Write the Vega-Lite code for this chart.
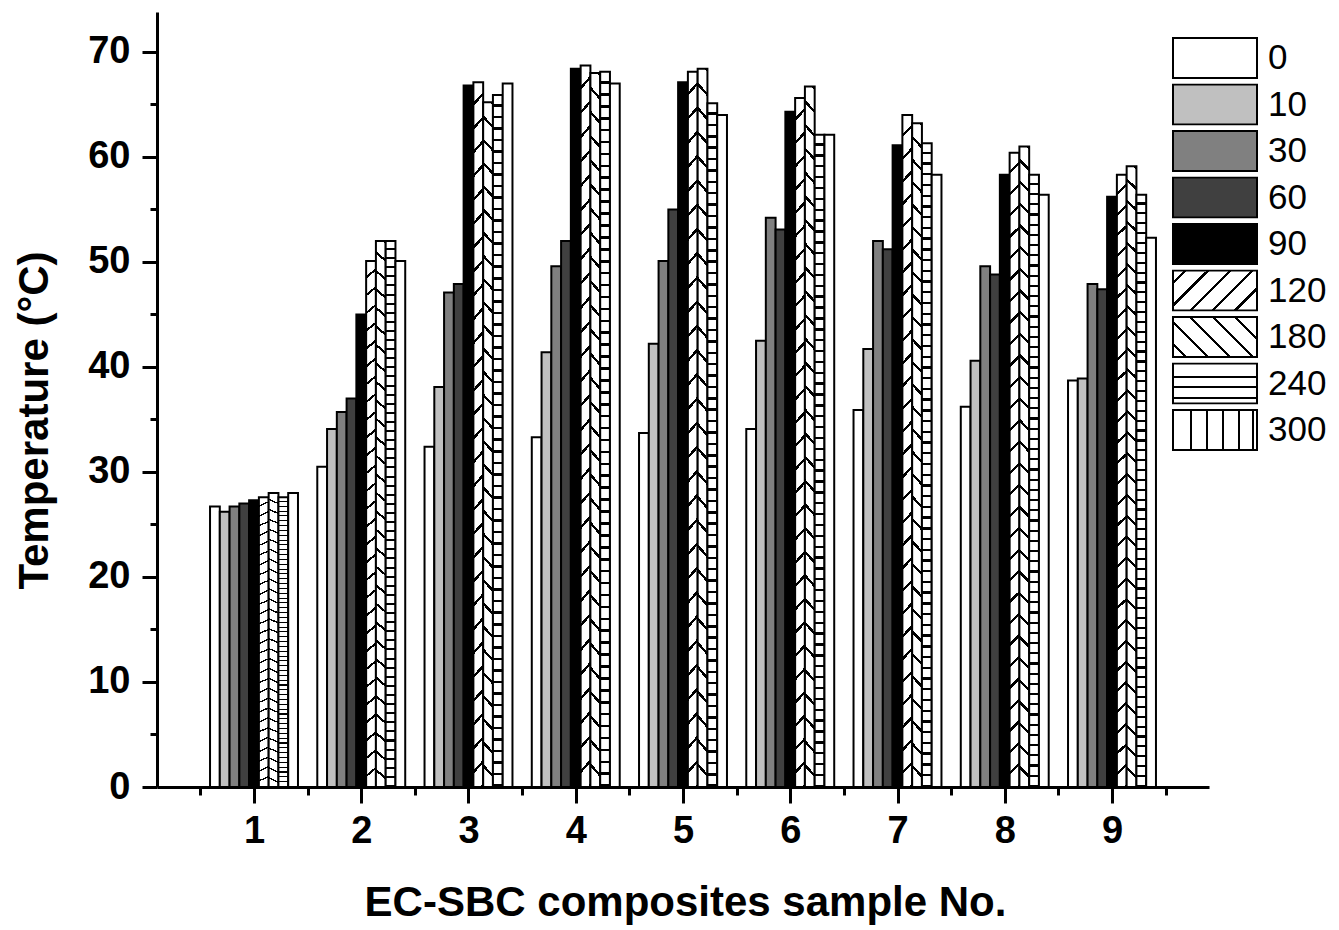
{
  "$schema": "https://vega.github.io/schema/vega-lite/v6.json",
  "width": 1052,
  "height": 775,
  "autosize": "none",
  "padding": {"left": 157, "top": 12, "right": 130, "bottom": 143},
  "background": "white",
  "data": {
    "values": [
      {"sample": 1, "time": 0, "temp": 26.7}, {"sample": 1, "time": 10, "temp": 26.2}, {"sample": 1, "time": 30, "temp": 26.7},
      {"sample": 1, "time": 60, "temp": 27.0}, {"sample": 1, "time": 90, "temp": 27.3}, {"sample": 1, "time": 120, "temp": 27.6},
      {"sample": 1, "time": 180, "temp": 28.0}, {"sample": 1, "time": 240, "temp": 27.6}, {"sample": 1, "time": 300, "temp": 28.0},
      {"sample": 2, "time": 0, "temp": 30.5}, {"sample": 2, "time": 10, "temp": 34.1}, {"sample": 2, "time": 30, "temp": 35.7},
      {"sample": 2, "time": 60, "temp": 37.0}, {"sample": 2, "time": 90, "temp": 45.0}, {"sample": 2, "time": 120, "temp": 50.1},
      {"sample": 2, "time": 180, "temp": 52.0}, {"sample": 2, "time": 240, "temp": 52.0}, {"sample": 2, "time": 300, "temp": 50.1},
      {"sample": 3, "time": 0, "temp": 32.4}, {"sample": 3, "time": 10, "temp": 38.1}, {"sample": 3, "time": 30, "temp": 47.1},
      {"sample": 3, "time": 60, "temp": 47.9}, {"sample": 3, "time": 90, "temp": 66.8}, {"sample": 3, "time": 120, "temp": 67.1},
      {"sample": 3, "time": 180, "temp": 65.2}, {"sample": 3, "time": 240, "temp": 65.9}, {"sample": 3, "time": 300, "temp": 67.0},
      {"sample": 4, "time": 0, "temp": 33.3}, {"sample": 4, "time": 10, "temp": 41.4}, {"sample": 4, "time": 30, "temp": 49.6},
      {"sample": 4, "time": 60, "temp": 52.0}, {"sample": 4, "time": 90, "temp": 68.4}, {"sample": 4, "time": 120, "temp": 68.7},
      {"sample": 4, "time": 180, "temp": 68.0}, {"sample": 4, "time": 240, "temp": 68.1}, {"sample": 4, "time": 300, "temp": 67.0},
      {"sample": 5, "time": 0, "temp": 33.7}, {"sample": 5, "time": 10, "temp": 42.2}, {"sample": 5, "time": 30, "temp": 50.1},
      {"sample": 5, "time": 60, "temp": 55.0}, {"sample": 5, "time": 90, "temp": 67.1}, {"sample": 5, "time": 120, "temp": 68.1},
      {"sample": 5, "time": 180, "temp": 68.4}, {"sample": 5, "time": 240, "temp": 65.1}, {"sample": 5, "time": 300, "temp": 64.0},
      {"sample": 6, "time": 0, "temp": 34.1}, {"sample": 6, "time": 10, "temp": 42.5}, {"sample": 6, "time": 30, "temp": 54.2},
      {"sample": 6, "time": 60, "temp": 53.1}, {"sample": 6, "time": 90, "temp": 64.3}, {"sample": 6, "time": 120, "temp": 65.6},
      {"sample": 6, "time": 180, "temp": 66.7}, {"sample": 6, "time": 240, "temp": 62.1}, {"sample": 6, "time": 300, "temp": 62.1},
      {"sample": 7, "time": 0, "temp": 35.9}, {"sample": 7, "time": 10, "temp": 41.7}, {"sample": 7, "time": 30, "temp": 52.0},
      {"sample": 7, "time": 60, "temp": 51.2}, {"sample": 7, "time": 90, "temp": 61.1}, {"sample": 7, "time": 120, "temp": 64.0},
      {"sample": 7, "time": 180, "temp": 63.2}, {"sample": 7, "time": 240, "temp": 61.3}, {"sample": 7, "time": 300, "temp": 58.3},
      {"sample": 8, "time": 0, "temp": 36.2}, {"sample": 8, "time": 10, "temp": 40.6}, {"sample": 8, "time": 30, "temp": 49.6},
      {"sample": 8, "time": 60, "temp": 48.8}, {"sample": 8, "time": 90, "temp": 58.3}, {"sample": 8, "time": 120, "temp": 60.4},
      {"sample": 8, "time": 180, "temp": 61.0}, {"sample": 8, "time": 240, "temp": 58.3}, {"sample": 8, "time": 300, "temp": 56.4},
      {"sample": 9, "time": 0, "temp": 38.7}, {"sample": 9, "time": 10, "temp": 38.9}, {"sample": 9, "time": 30, "temp": 47.9},
      {"sample": 9, "time": 60, "temp": 47.4}, {"sample": 9, "time": 90, "temp": 56.2}, {"sample": 9, "time": 120, "temp": 58.3},
      {"sample": 9, "time": 180, "temp": 59.1}, {"sample": 9, "time": 240, "temp": 56.4}, {"sample": 9, "time": 300, "temp": 52.3}
    ]
  },
  "layer": [
    {
      "mark": {"type": "bar", "stroke": "black", "strokeWidth": 2, "fillOpacity": 1},
      "encoding": {
        "x": {
          "field": "sample", "type": "ordinal",
          "scale": {"paddingInner": 0.18, "paddingOuter": 0.4945},
          "axis": null
        },
        "xOffset": {
          "field": "time", "type": "ordinal",
          "scale": {"domain": [0, 10, 30, 60, 90, 120, 180, 240, 300], "paddingInner": 0, "paddingOuter": 0}
        },
        "y": {
          "field": "temp", "type": "quantitative",
          "scale": {"domain": [0, 73.8], "nice": false, "zero": true},
          "axis": {
            "values": [0, 5, 10, 15, 20, 25, 30, 35, 40, 45, 50, 55, 60, 65, 70],
            "labelExpr": "datum.value % 10 === 0 ? datum.label : ''",
            "tickSize": {"condition": {"test": "datum.value % 10 === 0", "value": 15}, "value": 7},
            "labelPadding": 12,
            "labelOverlap": false,
            "labelFlush": false,
            "title": "Temperature (°C)",
            "titleX": -110,
            "titleY": 408,
            "titleBaseline": "alphabetic"
          }
        },
        "fill": {
          "field": "time", "type": "ordinal",
          "scale": {
            "domain": [0, 10, 30, 60, 90, 120, 180, 240, 300],
            "range": [
              "#ffffff", "#c0c0c0", "#808080", "#404040", "#000000",
              {"expr": "{gradient: 'linear', x1: 0, y1: 0, x2: 1.203, y2: 0.574, stops: [{offset: 0, color: '#fff'}, {offset: 0.09, color: '#fff'}, {offset: 0.09, color: '#000'}, {offset: 0.115, color: '#000'}, {offset: 0.115, color: '#fff'}, {offset: 0.27, color: '#fff'}, {offset: 0.27, color: '#000'}, {offset: 0.295, color: '#000'}, {offset: 0.295, color: '#fff'}, {offset: 0.45, color: '#fff'}, {offset: 0.45, color: '#000'}, {offset: 0.475, color: '#000'}, {offset: 0.475, color: '#fff'}, {offset: 0.63, color: '#fff'}, {offset: 0.63, color: '#000'}, {offset: 0.655, color: '#000'}, {offset: 0.655, color: '#fff'}, {offset: 0.81, color: '#fff'}, {offset: 0.81, color: '#000'}, {offset: 0.835, color: '#000'}, {offset: 0.835, color: '#fff'}, {offset: 1, color: '#fff'}]}"},
              {"expr": "{gradient: 'linear', x1: 0, y1: 1, x2: 1.203, y2: 0.426, stops: [{offset: 0, color: '#fff'}, {offset: 0.09, color: '#fff'}, {offset: 0.09, color: '#000'}, {offset: 0.115, color: '#000'}, {offset: 0.115, color: '#fff'}, {offset: 0.27, color: '#fff'}, {offset: 0.27, color: '#000'}, {offset: 0.295, color: '#000'}, {offset: 0.295, color: '#fff'}, {offset: 0.45, color: '#fff'}, {offset: 0.45, color: '#000'}, {offset: 0.475, color: '#000'}, {offset: 0.475, color: '#fff'}, {offset: 0.63, color: '#fff'}, {offset: 0.63, color: '#000'}, {offset: 0.655, color: '#000'}, {offset: 0.655, color: '#fff'}, {offset: 0.81, color: '#fff'}, {offset: 0.81, color: '#000'}, {offset: 0.835, color: '#000'}, {offset: 0.835, color: '#fff'}, {offset: 1, color: '#fff'}]}"},
              {"expr": "{gradient: 'linear', x1: 0, y1: 0, x2: 0, y2: 1, stops: [{offset: 0, color: '#fff'}, {offset: 0.31, color: '#fff'}, {offset: 0.31, color: '#000'}, {offset: 0.36, color: '#000'}, {offset: 0.36, color: '#fff'}, {offset: 0.57, color: '#fff'}, {offset: 0.57, color: '#000'}, {offset: 0.62, color: '#000'}, {offset: 0.62, color: '#fff'}, {offset: 0.84, color: '#fff'}, {offset: 0.84, color: '#000'}, {offset: 0.89, color: '#000'}, {offset: 0.89, color: '#fff'}, {offset: 1, color: '#fff'}]}"},
              {"expr": "{gradient: 'linear', x1: 0, y1: 0, x2: 1, y2: 0, stops: [{offset: 0, color: '#fff'}, {offset: 0.2, color: '#fff'}, {offset: 0.2, color: '#000'}, {offset: 0.228, color: '#000'}, {offset: 0.228, color: '#fff'}, {offset: 0.39, color: '#fff'}, {offset: 0.39, color: '#000'}, {offset: 0.418, color: '#000'}, {offset: 0.418, color: '#fff'}, {offset: 0.58, color: '#fff'}, {offset: 0.58, color: '#000'}, {offset: 0.608, color: '#000'}, {offset: 0.608, color: '#fff'}, {offset: 0.77, color: '#fff'}, {offset: 0.77, color: '#000'}, {offset: 0.798, color: '#000'}, {offset: 0.798, color: '#fff'}, {offset: 0.94, color: '#fff'}, {offset: 0.94, color: '#000'}, {offset: 0.968, color: '#000'}, {offset: 0.968, color: '#fff'}, {offset: 1, color: '#fff'}]}"}
            ]
          },
          "condition": [
            {"test": "datum.time === 120", "value": {"gradient": "linear", "x1": 0, "y1": 0, "x2": 0.0156, "y2": 1.0152, "stops": [
              {"offset":0,"color":"#fff"},{"offset":0.0283,"color":"#fff"},{"offset":0.0283,"color":"#000"},{"offset":0.0333,"color":"#000"},
              {"offset":0.0333,"color":"#fff"},{"offset":0.0617,"color":"#fff"},{"offset":0.0617,"color":"#000"},{"offset":0.0667,"color":"#000"},
              {"offset":0.0667,"color":"#fff"},{"offset":0.095,"color":"#fff"},{"offset":0.095,"color":"#000"},{"offset":0.1,"color":"#000"},
              {"offset":0.1,"color":"#fff"},{"offset":0.1283,"color":"#fff"},{"offset":0.1283,"color":"#000"},{"offset":0.1333,"color":"#000"},
              {"offset":0.1333,"color":"#fff"},{"offset":0.1617,"color":"#fff"},{"offset":0.1617,"color":"#000"},{"offset":0.1667,"color":"#000"},
              {"offset":0.1667,"color":"#fff"},{"offset":0.195,"color":"#fff"},{"offset":0.195,"color":"#000"},{"offset":0.2,"color":"#000"},
              {"offset":0.2,"color":"#fff"},{"offset":0.2283,"color":"#fff"},{"offset":0.2283,"color":"#000"},{"offset":0.2333,"color":"#000"},
              {"offset":0.2333,"color":"#fff"},{"offset":0.2617,"color":"#fff"},{"offset":0.2617,"color":"#000"},{"offset":0.2667,"color":"#000"},
              {"offset":0.2667,"color":"#fff"},{"offset":0.295,"color":"#fff"},{"offset":0.295,"color":"#000"},{"offset":0.3,"color":"#000"},
              {"offset":0.3,"color":"#fff"},{"offset":0.3283,"color":"#fff"},{"offset":0.3283,"color":"#000"},{"offset":0.3333,"color":"#000"},
              {"offset":0.3333,"color":"#fff"},{"offset":0.3617,"color":"#fff"},{"offset":0.3617,"color":"#000"},{"offset":0.3667,"color":"#000"},
              {"offset":0.3667,"color":"#fff"},{"offset":0.395,"color":"#fff"},{"offset":0.395,"color":"#000"},{"offset":0.4,"color":"#000"},
              {"offset":0.4,"color":"#fff"},{"offset":0.4283,"color":"#fff"},{"offset":0.4283,"color":"#000"},{"offset":0.4333,"color":"#000"},
              {"offset":0.4333,"color":"#fff"},{"offset":0.4617,"color":"#fff"},{"offset":0.4617,"color":"#000"},{"offset":0.4667,"color":"#000"},
              {"offset":0.4667,"color":"#fff"},{"offset":0.495,"color":"#fff"},{"offset":0.495,"color":"#000"},{"offset":0.5,"color":"#000"},
              {"offset":0.5,"color":"#fff"},{"offset":0.5283,"color":"#fff"},{"offset":0.5283,"color":"#000"},{"offset":0.5333,"color":"#000"},
              {"offset":0.5333,"color":"#fff"},{"offset":0.5617,"color":"#fff"},{"offset":0.5617,"color":"#000"},{"offset":0.5667,"color":"#000"},
              {"offset":0.5667,"color":"#fff"},{"offset":0.595,"color":"#fff"},{"offset":0.595,"color":"#000"},{"offset":0.6,"color":"#000"},
              {"offset":0.6,"color":"#fff"},{"offset":0.6283,"color":"#fff"},{"offset":0.6283,"color":"#000"},{"offset":0.6333,"color":"#000"},
              {"offset":0.6333,"color":"#fff"},{"offset":0.6617,"color":"#fff"},{"offset":0.6617,"color":"#000"},{"offset":0.6667,"color":"#000"},
              {"offset":0.6667,"color":"#fff"},{"offset":0.695,"color":"#fff"},{"offset":0.695,"color":"#000"},{"offset":0.7,"color":"#000"},
              {"offset":0.7,"color":"#fff"},{"offset":0.7283,"color":"#fff"},{"offset":0.7283,"color":"#000"},{"offset":0.7333,"color":"#000"},
              {"offset":0.7333,"color":"#fff"},{"offset":0.7617,"color":"#fff"},{"offset":0.7617,"color":"#000"},{"offset":0.7667,"color":"#000"},
              {"offset":0.7667,"color":"#fff"},{"offset":0.795,"color":"#fff"},{"offset":0.795,"color":"#000"},{"offset":0.8,"color":"#000"},
              {"offset":0.8,"color":"#fff"},{"offset":0.8283,"color":"#fff"},{"offset":0.8283,"color":"#000"},{"offset":0.8333,"color":"#000"},
              {"offset":0.8333,"color":"#fff"},{"offset":0.8617,"color":"#fff"},{"offset":0.8617,"color":"#000"},{"offset":0.8667,"color":"#000"},
              {"offset":0.8667,"color":"#fff"},{"offset":0.895,"color":"#fff"},{"offset":0.895,"color":"#000"},{"offset":0.9,"color":"#000"},
              {"offset":0.9,"color":"#fff"},{"offset":0.9283,"color":"#fff"},{"offset":0.9283,"color":"#000"},{"offset":0.9333,"color":"#000"},
              {"offset":0.9333,"color":"#fff"},{"offset":0.9617,"color":"#fff"},{"offset":0.9617,"color":"#000"},{"offset":0.9667,"color":"#000"},
              {"offset":0.9667,"color":"#fff"},{"offset":0.995,"color":"#fff"},{"offset":0.995,"color":"#000"},{"offset":1,"color":"#000"}
            ]}},
            {"test": "datum.time === 180", "value": {"gradient": "linear", "x1": 0, "y1": 1, "x2": 0.0156, "y2": -0.0152, "stops": [
              {"offset":0,"color":"#fff"},{"offset":0.0283,"color":"#fff"},{"offset":0.0283,"color":"#000"},{"offset":0.0333,"color":"#000"},
              {"offset":0.0333,"color":"#fff"},{"offset":0.0617,"color":"#fff"},{"offset":0.0617,"color":"#000"},{"offset":0.0667,"color":"#000"},
              {"offset":0.0667,"color":"#fff"},{"offset":0.095,"color":"#fff"},{"offset":0.095,"color":"#000"},{"offset":0.1,"color":"#000"},
              {"offset":0.1,"color":"#fff"},{"offset":0.1283,"color":"#fff"},{"offset":0.1283,"color":"#000"},{"offset":0.1333,"color":"#000"},
              {"offset":0.1333,"color":"#fff"},{"offset":0.1617,"color":"#fff"},{"offset":0.1617,"color":"#000"},{"offset":0.1667,"color":"#000"},
              {"offset":0.1667,"color":"#fff"},{"offset":0.195,"color":"#fff"},{"offset":0.195,"color":"#000"},{"offset":0.2,"color":"#000"},
              {"offset":0.2,"color":"#fff"},{"offset":0.2283,"color":"#fff"},{"offset":0.2283,"color":"#000"},{"offset":0.2333,"color":"#000"},
              {"offset":0.2333,"color":"#fff"},{"offset":0.2617,"color":"#fff"},{"offset":0.2617,"color":"#000"},{"offset":0.2667,"color":"#000"},
              {"offset":0.2667,"color":"#fff"},{"offset":0.295,"color":"#fff"},{"offset":0.295,"color":"#000"},{"offset":0.3,"color":"#000"},
              {"offset":0.3,"color":"#fff"},{"offset":0.3283,"color":"#fff"},{"offset":0.3283,"color":"#000"},{"offset":0.3333,"color":"#000"},
              {"offset":0.3333,"color":"#fff"},{"offset":0.3617,"color":"#fff"},{"offset":0.3617,"color":"#000"},{"offset":0.3667,"color":"#000"},
              {"offset":0.3667,"color":"#fff"},{"offset":0.395,"color":"#fff"},{"offset":0.395,"color":"#000"},{"offset":0.4,"color":"#000"},
              {"offset":0.4,"color":"#fff"},{"offset":0.4283,"color":"#fff"},{"offset":0.4283,"color":"#000"},{"offset":0.4333,"color":"#000"},
              {"offset":0.4333,"color":"#fff"},{"offset":0.4617,"color":"#fff"},{"offset":0.4617,"color":"#000"},{"offset":0.4667,"color":"#000"},
              {"offset":0.4667,"color":"#fff"},{"offset":0.495,"color":"#fff"},{"offset":0.495,"color":"#000"},{"offset":0.5,"color":"#000"},
              {"offset":0.5,"color":"#fff"},{"offset":0.5283,"color":"#fff"},{"offset":0.5283,"color":"#000"},{"offset":0.5333,"color":"#000"},
              {"offset":0.5333,"color":"#fff"},{"offset":0.5617,"color":"#fff"},{"offset":0.5617,"color":"#000"},{"offset":0.5667,"color":"#000"},
              {"offset":0.5667,"color":"#fff"},{"offset":0.595,"color":"#fff"},{"offset":0.595,"color":"#000"},{"offset":0.6,"color":"#000"},
              {"offset":0.6,"color":"#fff"},{"offset":0.6283,"color":"#fff"},{"offset":0.6283,"color":"#000"},{"offset":0.6333,"color":"#000"},
              {"offset":0.6333,"color":"#fff"},{"offset":0.6617,"color":"#fff"},{"offset":0.6617,"color":"#000"},{"offset":0.6667,"color":"#000"},
              {"offset":0.6667,"color":"#fff"},{"offset":0.695,"color":"#fff"},{"offset":0.695,"color":"#000"},{"offset":0.7,"color":"#000"},
              {"offset":0.7,"color":"#fff"},{"offset":0.7283,"color":"#fff"},{"offset":0.7283,"color":"#000"},{"offset":0.7333,"color":"#000"},
              {"offset":0.7333,"color":"#fff"},{"offset":0.7617,"color":"#fff"},{"offset":0.7617,"color":"#000"},{"offset":0.7667,"color":"#000"},
              {"offset":0.7667,"color":"#fff"},{"offset":0.795,"color":"#fff"},{"offset":0.795,"color":"#000"},{"offset":0.8,"color":"#000"},
              {"offset":0.8,"color":"#fff"},{"offset":0.8283,"color":"#fff"},{"offset":0.8283,"color":"#000"},{"offset":0.8333,"color":"#000"},
              {"offset":0.8333,"color":"#fff"},{"offset":0.8617,"color":"#fff"},{"offset":0.8617,"color":"#000"},{"offset":0.8667,"color":"#000"},
              {"offset":0.8667,"color":"#fff"},{"offset":0.895,"color":"#fff"},{"offset":0.895,"color":"#000"},{"offset":0.9,"color":"#000"},
              {"offset":0.9,"color":"#fff"},{"offset":0.9283,"color":"#fff"},{"offset":0.9283,"color":"#000"},{"offset":0.9333,"color":"#000"},
              {"offset":0.9333,"color":"#fff"},{"offset":0.9617,"color":"#fff"},{"offset":0.9617,"color":"#000"},{"offset":0.9667,"color":"#000"},
              {"offset":0.9667,"color":"#fff"},{"offset":0.995,"color":"#fff"},{"offset":0.995,"color":"#000"},{"offset":1,"color":"#000"}
            ]}},
            {"test": "datum.time === 240", "value": {"gradient": "linear", "x1": 0, "y1": 0, "x2": 0, "y2": 1, "stops": [
              {"offset":0,"color":"#fff"},{"offset":0.013,"color":"#fff"},{"offset":0.013,"color":"#000"},{"offset":0.0167,"color":"#000"},
              {"offset":0.0167,"color":"#fff"},{"offset":0.0297,"color":"#fff"},{"offset":0.0297,"color":"#000"},{"offset":0.0333,"color":"#000"},
              {"offset":0.0333,"color":"#fff"},{"offset":0.0463,"color":"#fff"},{"offset":0.0463,"color":"#000"},{"offset":0.05,"color":"#000"},
              {"offset":0.05,"color":"#fff"},{"offset":0.063,"color":"#fff"},{"offset":0.063,"color":"#000"},{"offset":0.0667,"color":"#000"},
              {"offset":0.0667,"color":"#fff"},{"offset":0.0797,"color":"#fff"},{"offset":0.0797,"color":"#000"},{"offset":0.0833,"color":"#000"},
              {"offset":0.0833,"color":"#fff"},{"offset":0.0963,"color":"#fff"},{"offset":0.0963,"color":"#000"},{"offset":0.1,"color":"#000"},
              {"offset":0.1,"color":"#fff"},{"offset":0.113,"color":"#fff"},{"offset":0.113,"color":"#000"},{"offset":0.1167,"color":"#000"},
              {"offset":0.1167,"color":"#fff"},{"offset":0.1297,"color":"#fff"},{"offset":0.1297,"color":"#000"},{"offset":0.1333,"color":"#000"},
              {"offset":0.1333,"color":"#fff"},{"offset":0.1463,"color":"#fff"},{"offset":0.1463,"color":"#000"},{"offset":0.15,"color":"#000"},
              {"offset":0.15,"color":"#fff"},{"offset":0.163,"color":"#fff"},{"offset":0.163,"color":"#000"},{"offset":0.1667,"color":"#000"},
              {"offset":0.1667,"color":"#fff"},{"offset":0.1797,"color":"#fff"},{"offset":0.1797,"color":"#000"},{"offset":0.1833,"color":"#000"},
              {"offset":0.1833,"color":"#fff"},{"offset":0.1963,"color":"#fff"},{"offset":0.1963,"color":"#000"},{"offset":0.2,"color":"#000"},
              {"offset":0.2,"color":"#fff"},{"offset":0.213,"color":"#fff"},{"offset":0.213,"color":"#000"},{"offset":0.2167,"color":"#000"},
              {"offset":0.2167,"color":"#fff"},{"offset":0.2297,"color":"#fff"},{"offset":0.2297,"color":"#000"},{"offset":0.2333,"color":"#000"},
              {"offset":0.2333,"color":"#fff"},{"offset":0.2463,"color":"#fff"},{"offset":0.2463,"color":"#000"},{"offset":0.25,"color":"#000"},
              {"offset":0.25,"color":"#fff"},{"offset":0.263,"color":"#fff"},{"offset":0.263,"color":"#000"},{"offset":0.2667,"color":"#000"},
              {"offset":0.2667,"color":"#fff"},{"offset":0.2797,"color":"#fff"},{"offset":0.2797,"color":"#000"},{"offset":0.2833,"color":"#000"},
              {"offset":0.2833,"color":"#fff"},{"offset":0.2963,"color":"#fff"},{"offset":0.2963,"color":"#000"},{"offset":0.3,"color":"#000"},
              {"offset":0.3,"color":"#fff"},{"offset":0.313,"color":"#fff"},{"offset":0.313,"color":"#000"},{"offset":0.3167,"color":"#000"},
              {"offset":0.3167,"color":"#fff"},{"offset":0.3297,"color":"#fff"},{"offset":0.3297,"color":"#000"},{"offset":0.3333,"color":"#000"},
              {"offset":0.3333,"color":"#fff"},{"offset":0.3463,"color":"#fff"},{"offset":0.3463,"color":"#000"},{"offset":0.35,"color":"#000"},
              {"offset":0.35,"color":"#fff"},{"offset":0.363,"color":"#fff"},{"offset":0.363,"color":"#000"},{"offset":0.3667,"color":"#000"},
              {"offset":0.3667,"color":"#fff"},{"offset":0.3797,"color":"#fff"},{"offset":0.3797,"color":"#000"},{"offset":0.3833,"color":"#000"},
              {"offset":0.3833,"color":"#fff"},{"offset":0.3963,"color":"#fff"},{"offset":0.3963,"color":"#000"},{"offset":0.4,"color":"#000"},
              {"offset":0.4,"color":"#fff"},{"offset":0.413,"color":"#fff"},{"offset":0.413,"color":"#000"},{"offset":0.4167,"color":"#000"},
              {"offset":0.4167,"color":"#fff"},{"offset":0.4297,"color":"#fff"},{"offset":0.4297,"color":"#000"},{"offset":0.4333,"color":"#000"},
              {"offset":0.4333,"color":"#fff"},{"offset":0.4463,"color":"#fff"},{"offset":0.4463,"color":"#000"},{"offset":0.45,"color":"#000"},
              {"offset":0.45,"color":"#fff"},{"offset":0.463,"color":"#fff"},{"offset":0.463,"color":"#000"},{"offset":0.4667,"color":"#000"},
              {"offset":0.4667,"color":"#fff"},{"offset":0.4797,"color":"#fff"},{"offset":0.4797,"color":"#000"},{"offset":0.4833,"color":"#000"},
              {"offset":0.4833,"color":"#fff"},{"offset":0.4963,"color":"#fff"},{"offset":0.4963,"color":"#000"},{"offset":0.5,"color":"#000"},
              {"offset":0.5,"color":"#fff"},{"offset":0.513,"color":"#fff"},{"offset":0.513,"color":"#000"},{"offset":0.5167,"color":"#000"},
              {"offset":0.5167,"color":"#fff"},{"offset":0.5297,"color":"#fff"},{"offset":0.5297,"color":"#000"},{"offset":0.5333,"color":"#000"},
              {"offset":0.5333,"color":"#fff"},{"offset":0.5463,"color":"#fff"},{"offset":0.5463,"color":"#000"},{"offset":0.55,"color":"#000"},
              {"offset":0.55,"color":"#fff"},{"offset":0.563,"color":"#fff"},{"offset":0.563,"color":"#000"},{"offset":0.5667,"color":"#000"},
              {"offset":0.5667,"color":"#fff"},{"offset":0.5797,"color":"#fff"},{"offset":0.5797,"color":"#000"},{"offset":0.5833,"color":"#000"},
              {"offset":0.5833,"color":"#fff"},{"offset":0.5963,"color":"#fff"},{"offset":0.5963,"color":"#000"},{"offset":0.6,"color":"#000"},
              {"offset":0.6,"color":"#fff"},{"offset":0.613,"color":"#fff"},{"offset":0.613,"color":"#000"},{"offset":0.6167,"color":"#000"},
              {"offset":0.6167,"color":"#fff"},{"offset":0.6297,"color":"#fff"},{"offset":0.6297,"color":"#000"},{"offset":0.6333,"color":"#000"},
              {"offset":0.6333,"color":"#fff"},{"offset":0.6463,"color":"#fff"},{"offset":0.6463,"color":"#000"},{"offset":0.65,"color":"#000"},
              {"offset":0.65,"color":"#fff"},{"offset":0.663,"color":"#fff"},{"offset":0.663,"color":"#000"},{"offset":0.6667,"color":"#000"},
              {"offset":0.6667,"color":"#fff"},{"offset":0.6797,"color":"#fff"},{"offset":0.6797,"color":"#000"},{"offset":0.6833,"color":"#000"},
              {"offset":0.6833,"color":"#fff"},{"offset":0.6963,"color":"#fff"},{"offset":0.6963,"color":"#000"},{"offset":0.7,"color":"#000"},
              {"offset":0.7,"color":"#fff"},{"offset":0.713,"color":"#fff"},{"offset":0.713,"color":"#000"},{"offset":0.7167,"color":"#000"},
              {"offset":0.7167,"color":"#fff"},{"offset":0.7297,"color":"#fff"},{"offset":0.7297,"color":"#000"},{"offset":0.7333,"color":"#000"},
              {"offset":0.7333,"color":"#fff"},{"offset":0.7463,"color":"#fff"},{"offset":0.7463,"color":"#000"},{"offset":0.75,"color":"#000"},
              {"offset":0.75,"color":"#fff"},{"offset":0.763,"color":"#fff"},{"offset":0.763,"color":"#000"},{"offset":0.7667,"color":"#000"},
              {"offset":0.7667,"color":"#fff"},{"offset":0.7797,"color":"#fff"},{"offset":0.7797,"color":"#000"},{"offset":0.7833,"color":"#000"},
              {"offset":0.7833,"color":"#fff"},{"offset":0.7963,"color":"#fff"},{"offset":0.7963,"color":"#000"},{"offset":0.8,"color":"#000"},
              {"offset":0.8,"color":"#fff"},{"offset":0.813,"color":"#fff"},{"offset":0.813,"color":"#000"},{"offset":0.8167,"color":"#000"},
              {"offset":0.8167,"color":"#fff"},{"offset":0.8297,"color":"#fff"},{"offset":0.8297,"color":"#000"},{"offset":0.8333,"color":"#000"},
              {"offset":0.8333,"color":"#fff"},{"offset":0.8463,"color":"#fff"},{"offset":0.8463,"color":"#000"},{"offset":0.85,"color":"#000"},
              {"offset":0.85,"color":"#fff"},{"offset":0.863,"color":"#fff"},{"offset":0.863,"color":"#000"},{"offset":0.8667,"color":"#000"},
              {"offset":0.8667,"color":"#fff"},{"offset":0.8797,"color":"#fff"},{"offset":0.8797,"color":"#000"},{"offset":0.8833,"color":"#000"},
              {"offset":0.8833,"color":"#fff"},{"offset":0.8963,"color":"#fff"},{"offset":0.8963,"color":"#000"},{"offset":0.9,"color":"#000"},
              {"offset":0.9,"color":"#fff"},{"offset":0.913,"color":"#fff"},{"offset":0.913,"color":"#000"},{"offset":0.9167,"color":"#000"},
              {"offset":0.9167,"color":"#fff"},{"offset":0.9297,"color":"#fff"},{"offset":0.9297,"color":"#000"},{"offset":0.9333,"color":"#000"},
              {"offset":0.9333,"color":"#fff"},{"offset":0.9463,"color":"#fff"},{"offset":0.9463,"color":"#000"},{"offset":0.95,"color":"#000"},
              {"offset":0.95,"color":"#fff"},{"offset":0.963,"color":"#fff"},{"offset":0.963,"color":"#000"},{"offset":0.9667,"color":"#000"},
              {"offset":0.9667,"color":"#fff"},{"offset":0.9797,"color":"#fff"},{"offset":0.9797,"color":"#000"},{"offset":0.9833,"color":"#000"},
              {"offset":0.9833,"color":"#fff"},{"offset":0.9963,"color":"#fff"},{"offset":0.9963,"color":"#000"},{"offset":1,"color":"#000"}
            ]}},
            {"test": "datum.time === 300", "value": "#ffffff"}
          ],
          "legend": {
            "orient": "none",
            "legendX": 1015,
            "legendY": 25,
            "title": null,
            "padding": 0,
            "symbolType": "M-1,-0.476H1V0.476H-1Z",
            "symbolSize": 7056,
            "clipHeight": 42,
            "rowPadding": 4.5,
            "labelFont": "Liberation Sans",
            "labelFontSize": 35,
            "labelFontWeight": "normal",
            "labelColor": "black",
            "labelOffset": 10,
            "symbolStrokeColor": "black",
            "symbolStrokeWidth": 2,
            "symbolOpacity": 1
          }
        }
      }
    },
    {
      "mark": {"type": "point", "opacity": 0},
      "encoding": {
        "x": {
          "field": "sample", "type": "quantitative",
          "scale": {"domain": [0.0956, 9.9044], "nice": false, "zero": false},
          "axis": {
            "orient": "bottom",
            "values": [0.5, 1, 1.5, 2, 2.5, 3, 3.5, 4, 4.5, 5, 5.5, 6, 6.5, 7, 7.5, 8, 8.5, 9, 9.5],
            "labelExpr": "datum.value % 1 === 0 ? format(datum.value, 'd') : ''",
            "tickSize": {"condition": {"test": "datum.value % 1 === 0", "value": 16}, "value": 8},
            "labelPadding": 9,
            "labelOverlap": false,
            "labelFlush": false,
            "title": "EC-SBC composites sample No.",
            "titleX": 528,
            "titleY": 128,
            "titleBaseline": "alphabetic"
          }
        },
        "y": {"field": "temp", "type": "quantitative"}
      }
    }
  ],
  "resolve": {"scale": {"x": "independent"}},
  "config": {
    "view": {"stroke": null},
    "axis": {
      "grid": false,
      "domainColor": "black",
      "domainWidth": 3,
      "tickColor": "black",
      "tickWidth": 3,
      "labelFont": "Liberation Sans",
      "labelFontWeight": "bold",
      "labelFontSize": 38,
      "labelColor": "black",
      "titleFont": "Liberation Sans",
      "titleFontWeight": "bold",
      "titleFontSize": 42,
      "titleColor": "black"
    }
  }
}
